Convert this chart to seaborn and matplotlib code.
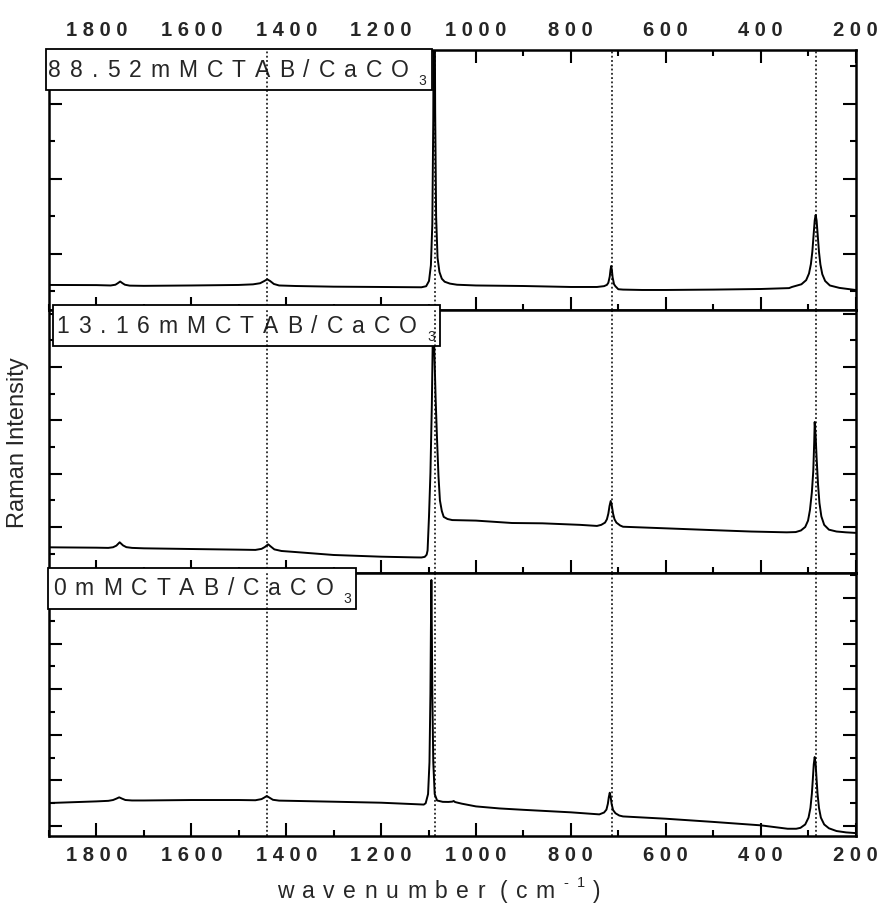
import matplotlib
matplotlib.use("Agg")
import matplotlib.pyplot as plt
import seaborn as sns
import pandas as pd
from matplotlib.patches import Rectangle
from matplotlib.ticker import MultipleLocator, FuncFormatter

# ---------------- Raman spectra (wavenumber in cm^-1, intensity in a.u.) ----------------
wn_88 = [1900, 1800, 1770, 1760, 1755, 1750, 1745, 1740, 1730, 1700,
         1600, 1500, 1470, 1455, 1446, 1440, 1434, 1426, 1415, 1380,
         1300, 1200, 1115, 1105, 1099, 1095, 1092, 1090, 1088, 1086,
         1084, 1081, 1077, 1072, 1066, 1055, 1040, 1000, 900, 800,
         745, 730, 724, 721, 718, 716.5, 715, 713.5, 712, 709,
         706, 700, 690, 650, 600, 500, 400, 340, 334, 314,
         304, 298, 294, 291, 288, 286, 284, 282, 280, 277,
         274, 270, 264, 254, 234, 200]
int_88 = [587, 585, 580, 590, 610, 633, 610, 590, 578, 575,
          580, 587, 595, 610, 640, 662, 640, 600, 580, 573,
          564, 560, 556, 570, 640, 850, 1400, 2800, 6000, 2900,
          1500, 950, 760, 670, 630, 605, 590, 580, 573, 560,
          560, 571, 588, 616, 700, 784, 840, 784, 690, 597,
          569, 530, 525, 520, 520, 525, 533, 545, 560, 596,
          651, 740, 866, 1030, 1280, 1447, 1520, 1447, 1280, 1030,
          860, 730, 640, 580, 548, 520]

wn_13 = [1900, 1800, 1775, 1765, 1758, 1751, 1744, 1737, 1725, 1700,
         1600, 1500, 1465, 1452, 1445, 1438, 1432, 1425, 1410, 1380,
         1300, 1200, 1130, 1115, 1108, 1104, 1102, 1099, 1096, 1093,
         1091, 1090, 1088, 1085, 1082, 1079, 1076, 1072, 1068, 1060,
         1050, 1000, 924, 860, 780, 745, 736, 728, 724, 721,
         718.5, 716, 713.5, 711, 708, 704, 696, 690, 600, 509,
         420, 345, 326, 315, 306, 300, 296, 292, 289, 287,
         286, 284, 282, 279, 276, 272, 266, 256, 240, 220,
         200]
int_13 = [619, 612, 608, 620, 650, 713, 655, 622, 608, 600,
          587, 575, 570, 590, 625, 675, 630, 580, 550, 530,
          475, 443, 430, 428, 440, 480, 560, 1200, 2010, 3300,
          4600, 6200, 4400, 3400, 2630, 1950, 1500, 1300, 1190, 1150,
          1130, 1120, 1075, 1069, 1040, 1020, 1040, 1082, 1145, 1250,
          1393, 1488, 1393, 1250, 1145, 1082, 1028, 1005, 975, 944,
          915, 900, 905, 935, 1000, 1120, 1319, 1650, 2050, 2600,
          2970, 2700, 2300, 1800, 1450, 1200, 1040, 950, 915, 900,
          890]

wn_0 = [1900, 1800, 1775, 1765, 1758, 1752, 1746, 1739, 1725, 1700,
        1600, 1500, 1465, 1452, 1446, 1441, 1435, 1428, 1415, 1380,
        1300, 1200, 1120, 1110, 1106, 1101, 1098, 1096, 1095, 1094,
        1093, 1092, 1090, 1087, 1082, 1070, 1058, 1050, 1047, 1044,
        1030, 1000, 950, 900, 800, 740, 730, 725, 722, 720,
        718, 716, 714, 711, 706, 698, 690, 600, 500, 400,
        343, 325, 316, 306, 299, 295, 292, 290, 288, 286,
        284, 282, 280, 277, 273, 266, 256, 240, 220, 200]
int_0 = [504, 540, 552, 570, 600, 629, 600, 570, 560, 560,
         570, 570, 565, 590, 625, 658, 620, 575, 557, 550,
         533, 511, 475, 470, 500, 700, 1400, 2900, 4300, 5395,
         4300, 2900, 1400, 700, 560, 530, 528, 535, 548, 525,
         490, 430, 385, 355, 300, 255, 296, 360, 487, 633,
         730, 630, 480, 350, 280, 230, 210, 160, 90, 15,
         -60, -60, -40, 34, 184, 397, 707, 1016, 1352, 1513,
         1352, 1016, 707, 397, 184, 34, -50, -110, -140, -155]

sample_labels = ["88.52mMCTAB/CaCO", "13.16mMCTAB/CaCO", "0mMCTAB/CaCO"]
label_subscript = "3"
band_positions = [1440, 1087, 714, 283]   # calcite bands marked with dotted guides

spectra = pd.concat([
    pd.DataFrame({"wavenumber": wn_88, "intensity": int_88, "sample": sample_labels[0]}),
    pd.DataFrame({"wavenumber": wn_13, "intensity": int_13, "sample": sample_labels[1]}),
    pd.DataFrame({"wavenumber": wn_0, "intensity": int_0, "sample": sample_labels[2]}),
], ignore_index=True)

# ---------------- figure layout ----------------
sns.set_theme(style="ticks")
plt.rcParams["font.family"] = ["Liberation Sans", "DejaVu Sans"]
plt.rcParams["axes.linewidth"] = 1.8

W_PX, H_PX, DPI = 880, 905, 100
fig = plt.figure(figsize=(W_PX / DPI, H_PX / DPI), dpi=DPI)
fig.patch.set_facecolor("white")
renderer = fig.canvas.get_renderer()

x_left_px, x_right_px = 49, 855.5
panel_rows_px = [(50, 310), (310, 573), (573, 836)]
y_limits = [(253, 3720), (137, 5071), (-219, 5548)]
# label box geometry: (box left, text left, text baseline) in pixels
label_boxes_px = [(46, 48, 77), (53, 56, 333), (48, 53, 595)]


def tracked_text(owner, x_px, base_px, pieces, gap_px, zorder=7, weight="normal"):
    """Write text one glyph at a time with extra letter spacing; returns the right edge (px)."""
    x = x_px
    for text, size, rise in pieces:
        for ch in text:
            if ch == " ":
                x += 0.28 * size * DPI / 72
                continue
            t = owner.text(x / W_PX, 1 - (base_px - rise) / H_PX, ch,
                           transform=fig.transFigure, fontsize=size, fontweight=weight,
                           ha="left", va="baseline", zorder=zorder, clip_on=False)
            x += t.get_window_extent(renderer).width + gap_px
    return x - gap_px


spaced_fmt = FuncFormatter(lambda v, pos: " ".join(f"{v:.0f}"))

axes = []
for i, (sample, (top_px, bot_px)) in enumerate(zip(sample_labels, panel_rows_px)):
    ax = fig.add_axes([x_left_px / W_PX, 1 - bot_px / H_PX,
                       (x_right_px - x_left_px) / W_PX, (bot_px - top_px) / H_PX])
    axes.append(ax)
    sub = spectra[spectra["sample"] == sample]
    sns.lineplot(data=sub, x="wavenumber", y="intensity", ax=ax, color="black",
                 linewidth=1.4, sort=False, estimator=None, zorder=3, legend=False)
    for b in band_positions:
        ax.axvline(b, color="black", linestyle=(0, (1.2, 1.6)), linewidth=1.1, zorder=9)

    ax.set_xlim(1900, 200)
    ax.set_ylim(*y_limits[i])
    ax.xaxis.set_major_locator(MultipleLocator(200))
    ax.xaxis.set_minor_locator(MultipleLocator(100))
    ax.yaxis.set_major_locator(MultipleLocator(1000))
    ax.yaxis.set_minor_locator(MultipleLocator(500))
    ax.xaxis.set_major_formatter(spaced_fmt)
    ax.set_xlabel("")
    ax.set_ylabel("")
    ax.tick_params(which="both", direction="in", color="black", width=1.5,
                   left=True, right=True, bottom=True, top=(i == 0),
                   labelleft=False, labelright=False,
                   labeltop=(i == 0), labelbottom=(i == 2),
                   labelsize=14.5, pad=7)
    ax.tick_params(which="major", length=9.5)
    ax.tick_params(which="minor", length=4.5)
    for lab in ax.get_xticklabels():
        lab.set_fontweight("bold")
    for sp in ax.spines.values():
        sp.set_color("black")
        sp.set_linewidth(1.8)

    # sample label in a white box
    box_left, text_left, base = label_boxes_px[i]
    right = tracked_text(ax, text_left, base,
                         [(sample, 16.5, 0)], gap_px=9)
    right = tracked_text(ax, right + 10, base, [(label_subscript, 10, -8)], gap_px=0)
    ax.add_patch(Rectangle((box_left / W_PX, 1 - (base + 13.5) / H_PX),
                           (right + 5 - box_left) / W_PX, 41 / H_PX,
                           transform=fig.transFigure, facecolor="white",
                           edgecolor="black", linewidth=1.3, zorder=6, clip_on=False))

# axis titles
fig.text(18 / W_PX, 1 - 443 / H_PX, "Raman Intensity", rotation=90,
         ha="center", va="center", fontsize=17)
tracked_text(fig, 277, 898, [("wavenumber", 16.5, 0), (" (cm", 16.5, 0),
                             ("-1", 10.5, 11), (")", 16.5, 0)], gap_px=8.5, weight="normal")

fig.savefig("out.png", dpi=DPI, facecolor="white")
